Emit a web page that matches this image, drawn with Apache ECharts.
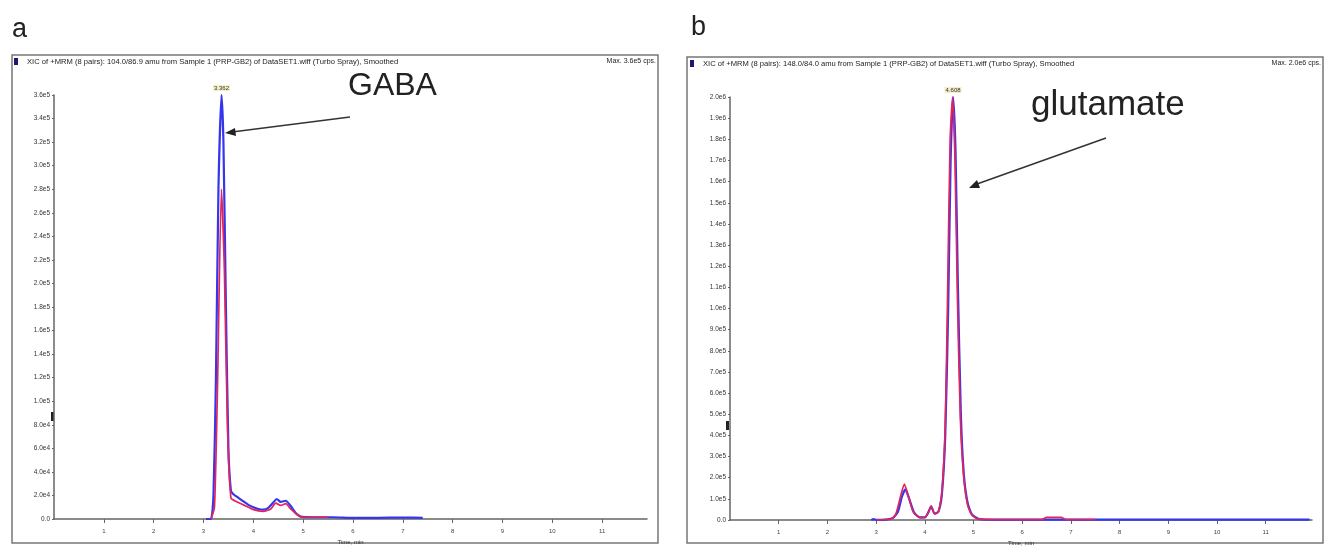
<!DOCTYPE html>
<html>
<head>
<meta charset="utf-8">
<script src="https://cdn.jsdelivr.net/npm/echarts@6/dist/echarts.min.js"></script>
<style>
html, body { margin: 0; padding: 0; background: #fff; }
#chart { width: 1333px; height: 546px; }
</style>
</head>
<body>
<div id="chart"></div>
<script>
// GABA trace (a): [time min, intensity cps]
var gabaBlue = [
    [3.05, 0], [3.15, 0], [3.2, 2e4], [3.25, 1.2e5], [3.3, 2.8e5], [3.362, 3.6e5],
    [3.4, 3.2e5], [3.45, 1.8e5], [3.5, 6e4], [3.55, 2.4e4], [3.6, 2.1e4], [3.7, 1.8e4],
    [3.8, 1.5e4], [3.9, 1.2e4], [4.0, 1.0e4], [4.1, 8.5e3], [4.2, 8e3], [4.3, 9.5e3],
    [4.4, 1.4e4], [4.47, 1.7e4], [4.55, 1.45e4], [4.65, 1.55e4], [4.75, 1.1e4],
    [4.85, 5e3], [4.95, 2e3], [5.2, 1.5e3], [5.6, 1.5e3], [6.0, 1e3], [6.5, 1e3],
    [7.0, 1.2e3], [7.4, 1e3]
];
var gabaRed = [
    [3.15, 0], [3.22, 1e4], [3.28, 1.1e5], [3.36, 2.8e5], [3.42, 2.1e5], [3.48, 8e4],
    [3.55, 1.8e4], [3.65, 1.5e4], [3.8, 1.2e4], [4.0, 8e3], [4.2, 6.5e3], [4.35, 8.5e3],
    [4.45, 1.35e4], [4.55, 1.15e4], [4.65, 1.3e4], [4.75, 8.5e3], [4.9, 3e3], [5.0, 1.5e3],
    [5.5, 1.5e3]
];
// glutamate trace (b)
var gluBlue = [
    [2.9, 0], [2.95, 4e3], [3.0, 1e3], [3.2, 2e3], [3.35, 1e4], [3.45, 4e4], [3.53, 1.1e5],
    [3.6, 1.45e5], [3.68, 1e5], [3.78, 3.5e4], [3.9, 1.2e4], [4.0, 1.2e4], [4.07, 3.5e4],
    [4.13, 6.5e4], [4.2, 3e4], [4.28, 4e4], [4.35, 1.2e5], [4.42, 4e5], [4.48, 1.0e6],
    [4.53, 1.7e6], [4.58, 2.0e6], [4.63, 1.75e6], [4.68, 1.1e6], [4.74, 5e5], [4.8, 2.2e5],
    [4.88, 8e4], [4.97, 2.5e4], [5.1, 6e3], [5.3, 2e3], [6.0, 2e3], [7.0, 2e3],
    [8.0, 2e3], [9.0, 2e3], [10.0, 2e3], [11.0, 2e3], [11.9, 2e3]
];
var gluRed = [
    [3.0, 0], [3.3, 4e3], [3.4, 2.5e4], [3.5, 1.1e5], [3.58, 1.7e5], [3.66, 1.15e5],
    [3.76, 4e4], [3.9, 1.1e4], [4.0, 1.2e4], [4.07, 3.5e4], [4.13, 6.6e4], [4.2, 3e4],
    [4.28, 4e4], [4.35, 1.3e5], [4.42, 4.5e5], [4.47, 1.1e6], [4.52, 1.8e6], [4.57, 2.0e6],
    [4.62, 1.7e6], [4.67, 1.05e6], [4.73, 4.8e5], [4.8, 2e5], [4.88, 7e4], [4.97, 2.2e4],
    [5.1, 5e3], [5.4, 2e3], [6.4, 2e3], [6.5, 1.2e4], [6.8, 1.2e4], [6.9, 2e3], [7.5, 2e3]
];
var gabaPeak = [3.362, 3.6e5];
var gluPeak = [4.58, 2.0e6];
var gabaPeakText = '3.362';
var gluPeakText = '4.608';

var titleA = 'XIC of +MRM (8 pairs): 104.0/86.9 amu from Sample 1 (PRP-GB2) of DataSET1.wiff (Turbo Spray), Smoothed';
var titleB = 'XIC of +MRM (8 pairs): 148.0/84.0 amu from Sample 1 (PRP-GB2) of DataSET1.wiff (Turbo Spray), Smoothed';
var maxA = 'Max. 3.6e5 cps.';
var maxB = 'Max. 2.0e6 cps.';

var BLUE = '#3535ee';
var RED = '#e0245e';
var FONT = 'Liberation Sans';

function sciLabel(v) {
    if (v === 0) return '0.0';
    return v.toExponential(1).replace('e+', 'e');
}

function xAxisCfg(idx, max) {
    return {
        type: 'value', gridIndex: idx, min: 0, max: max, interval: 1,
        name: 'Time, min', nameLocation: 'middle', nameGap: 15,
        nameTextStyle: { fontSize: 6, color: '#333', fontFamily: FONT },
        axisLine: { lineStyle: { color: '#666', width: 1.5 } },
        axisTick: { show: true, length: 4, lineStyle: { color: '#666' } },
        axisLabel: {
            fontSize: 6, color: '#444', margin: 9, showMinLabel: false, showMaxLabel: false,
            fontFamily: FONT,
            formatter: function (v) { return v === 0 ? '' : String(v); }
        },
        splitLine: { show: false }
    };
}

function yAxisCfg(idx, max, step) {
    return {
        type: 'value', gridIndex: idx, min: 0, max: max, interval: step,
        axisLine: { show: true, lineStyle: { color: '#666', width: 1.5 } },
        axisTick: { show: true, length: 2, lineStyle: { color: '#666' } },
        axisLabel: { fontSize: 6.5, color: '#333', margin: 4, fontFamily: FONT, formatter: sciLabel },
        splitLine: { show: false }
    };
}

function peakMark(coord, text) {
    return {
        symbol: 'rect', symbolSize: 0,
        label: {
            show: true, position: 'top', distance: 4, fontSize: 6, color: '#333',
            backgroundColor: '#f3efc4', padding: [0, 1], fontFamily: FONT,
            formatter: function () { return text; }
        },
        data: [{ coord: coord }]
    };
}

var chart = echarts.init(document.getElementById('chart'));

var option = {
    animation: false,
    backgroundColor: '#ffffff',
    grid: [
        { left: 54, top: 95, width: 593, height: 424, containLabel: false, outerBoundsMode: 'none' },
        { left: 730, top: 97, width: 582, height: 423, containLabel: false, outerBoundsMode: 'none' }
    ],
    xAxis: [xAxisCfg(0, 11.9), xAxisCfg(1, 11.95)],
    yAxis: [yAxisCfg(0, 3.6e5, 2e4), yAxisCfg(1, 2.0e6, 1e5)],
    series: [
        {
            name: 'GABA 1', type: 'line', xAxisIndex: 0, yAxisIndex: 0, data: gabaBlue,
            smooth: 0.2, showSymbol: false, lineStyle: { color: BLUE, width: 2.2 },
            markPoint: peakMark(gabaPeak, gabaPeakText)
        },
        {
            name: 'GABA 2', type: 'line', xAxisIndex: 0, yAxisIndex: 0, data: gabaRed,
            smooth: 0.2, showSymbol: false, lineStyle: { color: RED, width: 1.7 }
        },
        {
            name: 'Glu 1', type: 'line', xAxisIndex: 1, yAxisIndex: 1, data: gluBlue,
            smooth: 0.2, showSymbol: false, lineStyle: { color: BLUE, width: 2.2 },
            markPoint: peakMark(gluPeak, gluPeakText)
        },
        {
            name: 'Glu 2', type: 'line', xAxisIndex: 1, yAxisIndex: 1, data: gluRed,
            smooth: 0.2, showSymbol: false, lineStyle: { color: RED, width: 1.7 }
        }
    ],
    graphic: [
        // panel frames
        { type: 'rect', shape: { x: 12, y: 55, width: 646, height: 488 },
          style: { fill: 'none', stroke: '#777', lineWidth: 1.5 }, z: -1 },
        { type: 'rect', shape: { x: 687, y: 57, width: 636, height: 486 },
          style: { fill: 'none', stroke: '#777', lineWidth: 1.5 }, z: -1 },
        // panel letters
        { type: 'text', left: 12, top: 16, style: { text: 'a', fontSize: 27, fill: '#222', fontFamily: FONT } },
        { type: 'text', left: 691, top: 14, style: { text: 'b', fontSize: 27, fill: '#222', fontFamily: FONT } },
        // title bars
        { type: 'rect', shape: { x: 14, y: 58, width: 4, height: 7 }, style: { fill: '#1a1a6e' } },
        { type: 'text', left: 27, top: 58, style: { text: titleA, fontSize: 7.6, fill: '#222', fontFamily: FONT } },
        { type: 'text', right: 1333 - 656, top: 58, style: { text: maxA, fontSize: 7, fill: '#222', fontFamily: FONT } },
        { type: 'rect', shape: { x: 690, y: 60, width: 4, height: 7 }, style: { fill: '#1a1a6e' } },
        { type: 'text', left: 703, top: 60, style: { text: titleB, fontSize: 7.6, fill: '#222', fontFamily: FONT } },
        { type: 'text', right: 1333 - 1321, top: 60, style: { text: maxB, fontSize: 7, fill: '#222', fontFamily: FONT } },
        // y-axis markers
        { type: 'rect', shape: { x: 51, y: 412, width: 3, height: 9 }, style: { fill: '#222' } },
        { type: 'rect', shape: { x: 726, y: 421, width: 3, height: 9 }, style: { fill: '#222' } },
        // annotations
        { type: 'text', left: 348, top: 70, style: { text: 'GABA', fontSize: 32, fill: '#222', fontFamily: FONT } },
        { type: 'text', left: 1031, top: 88, style: { text: 'glutamate', fontSize: 35, fill: '#222', fontFamily: FONT } },
        { type: 'line', shape: { x1: 350, y1: 117, x2: 232, y2: 132 }, style: { stroke: '#333', lineWidth: 1.5 } },
        { type: 'polygon', shape: { points: [[225, 133], [235, 128], [236, 136]] }, style: { fill: '#222' } },
        { type: 'line', shape: { x1: 1106, y1: 138, x2: 977, y2: 184 }, style: { stroke: '#333', lineWidth: 1.5 } },
        { type: 'polygon', shape: { points: [[969, 188], [977, 180], [980, 188]] }, style: { fill: '#222' } }
    ]
};

chart.setOption(option);
</script>
</body>
</html>
